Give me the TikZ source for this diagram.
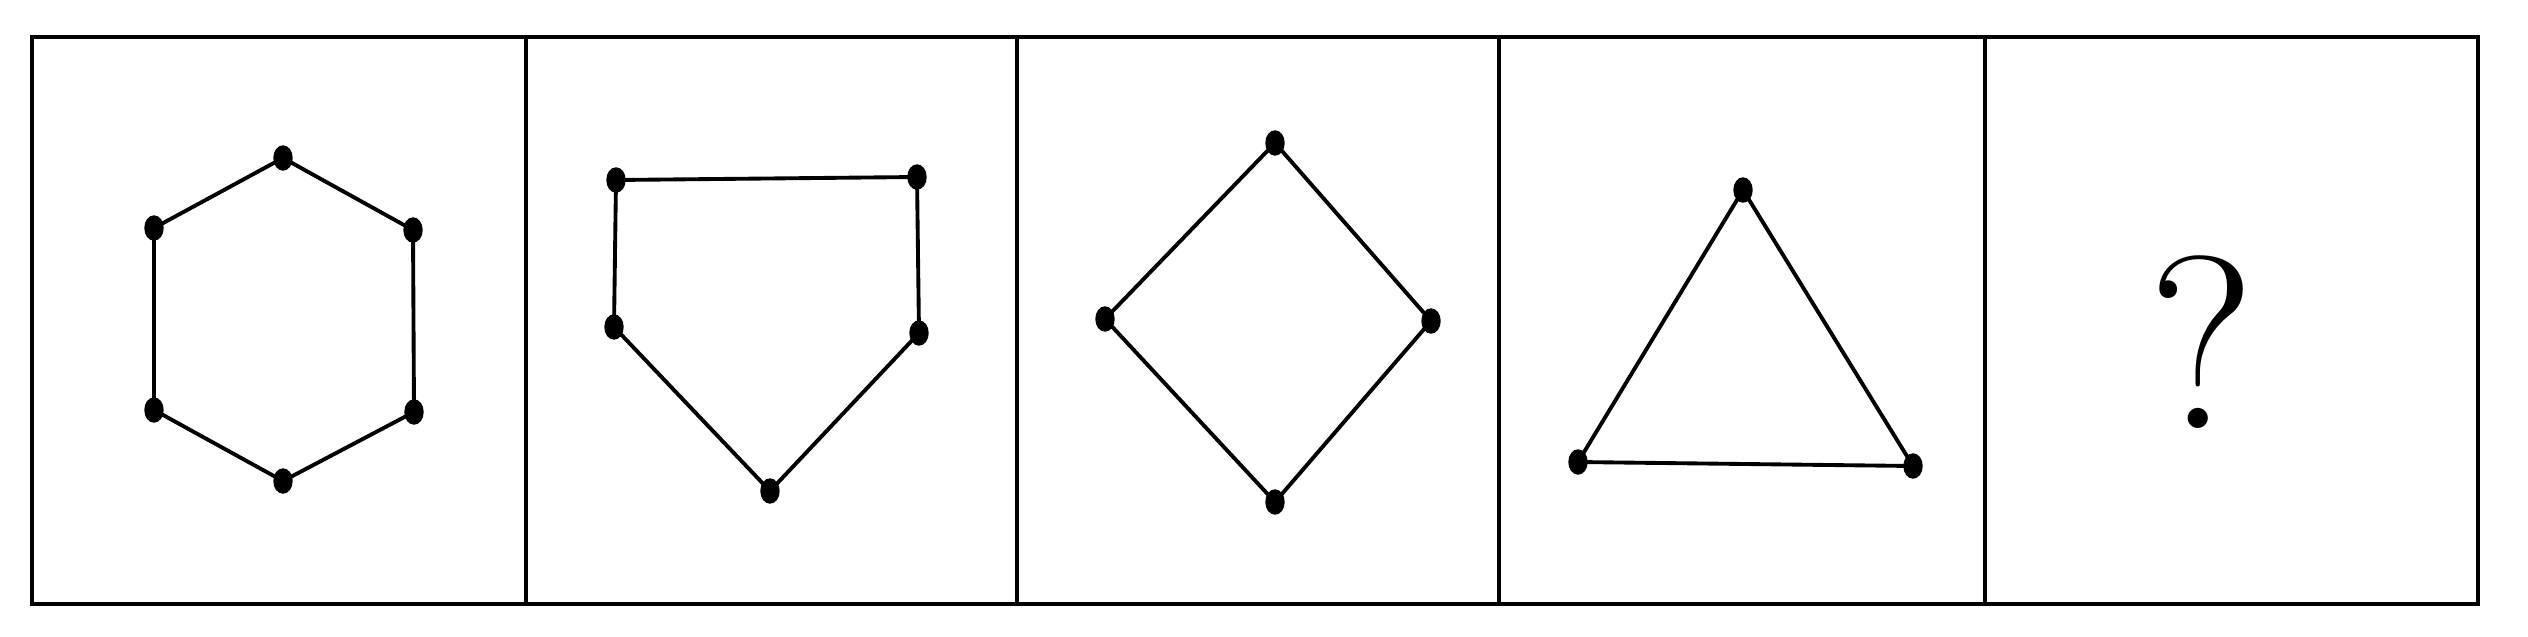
\documentclass[tikz,border=0pt]{standalone}
\usetikzlibrary{positioning}
\tikzset{
  panel/.style={draw, line width=1.3pt},
  edge/.style={draw, line width=1.1pt, line join=round},
  vdot/.style={fill=black}
}
\begin{document}
\begin{tikzpicture}[x=0.01cm, y=-0.01cm]
\useasboundingbox (0,0) rectangle (2528,636);

% panels
\draw[panel] (32,37) rectangle (526,604);
\draw[panel] (526,37) rectangle (1017,604);
\draw[panel] (1017,37) rectangle (1499,604);
\draw[panel] (1499,37) rectangle (1985,604);
\draw[panel] (1985,37) rectangle (2478,604);

% hexagon
\coordinate[](H1) at (283,158);
\coordinate[](H2) at (413,230);
\coordinate[](H3) at (414,412);
\coordinate[](H4) at (283,481);
\coordinate[](H5) at (154,410);
\coordinate[](H6) at (154,228);
\path[edge] (H1)--(H2)--(H3)--(H4)--(H5)--(H6)--cycle;

% pentagon
\coordinate[](P1) at (616,180);
\coordinate[](P2) at (917,177);
\coordinate[](P3) at (919,333);
\coordinate[](P4) at (770,491);
\coordinate[](P5) at (614,327);
\path[edge] (P1)--(P2)--(P3)--(P4)--(P5)--cycle;

% square on its corner
\coordinate[](Q1) at (1275,143);
\coordinate[](Q2) at (1431,321);
\coordinate[](Q3) at (1275,502);
\coordinate[](Q4) at (1105,319);
\path[edge] (Q1)--(Q2)--(Q3)--(Q4)--cycle;

% triangle
\coordinate[](T1) at (1743,190);
\coordinate[](T2) at (1913,466);
\coordinate[](T3) at (1578,462);
\path[edge] (T1)--(T2)--(T3)--cycle;

\foreach \v in {H1,H2,H3,H4,H5,H6,P1,P2,P3,P4,P5,Q1,Q2,Q3,Q4,T1,T2,T3}
  \draw[vdot] (\v) ellipse (9 and 12);

% unknown
\node[font=\fontsize{70}{70}\selectfont] (Q) at (2202,342) {?};
\end{tikzpicture}
\end{document}
